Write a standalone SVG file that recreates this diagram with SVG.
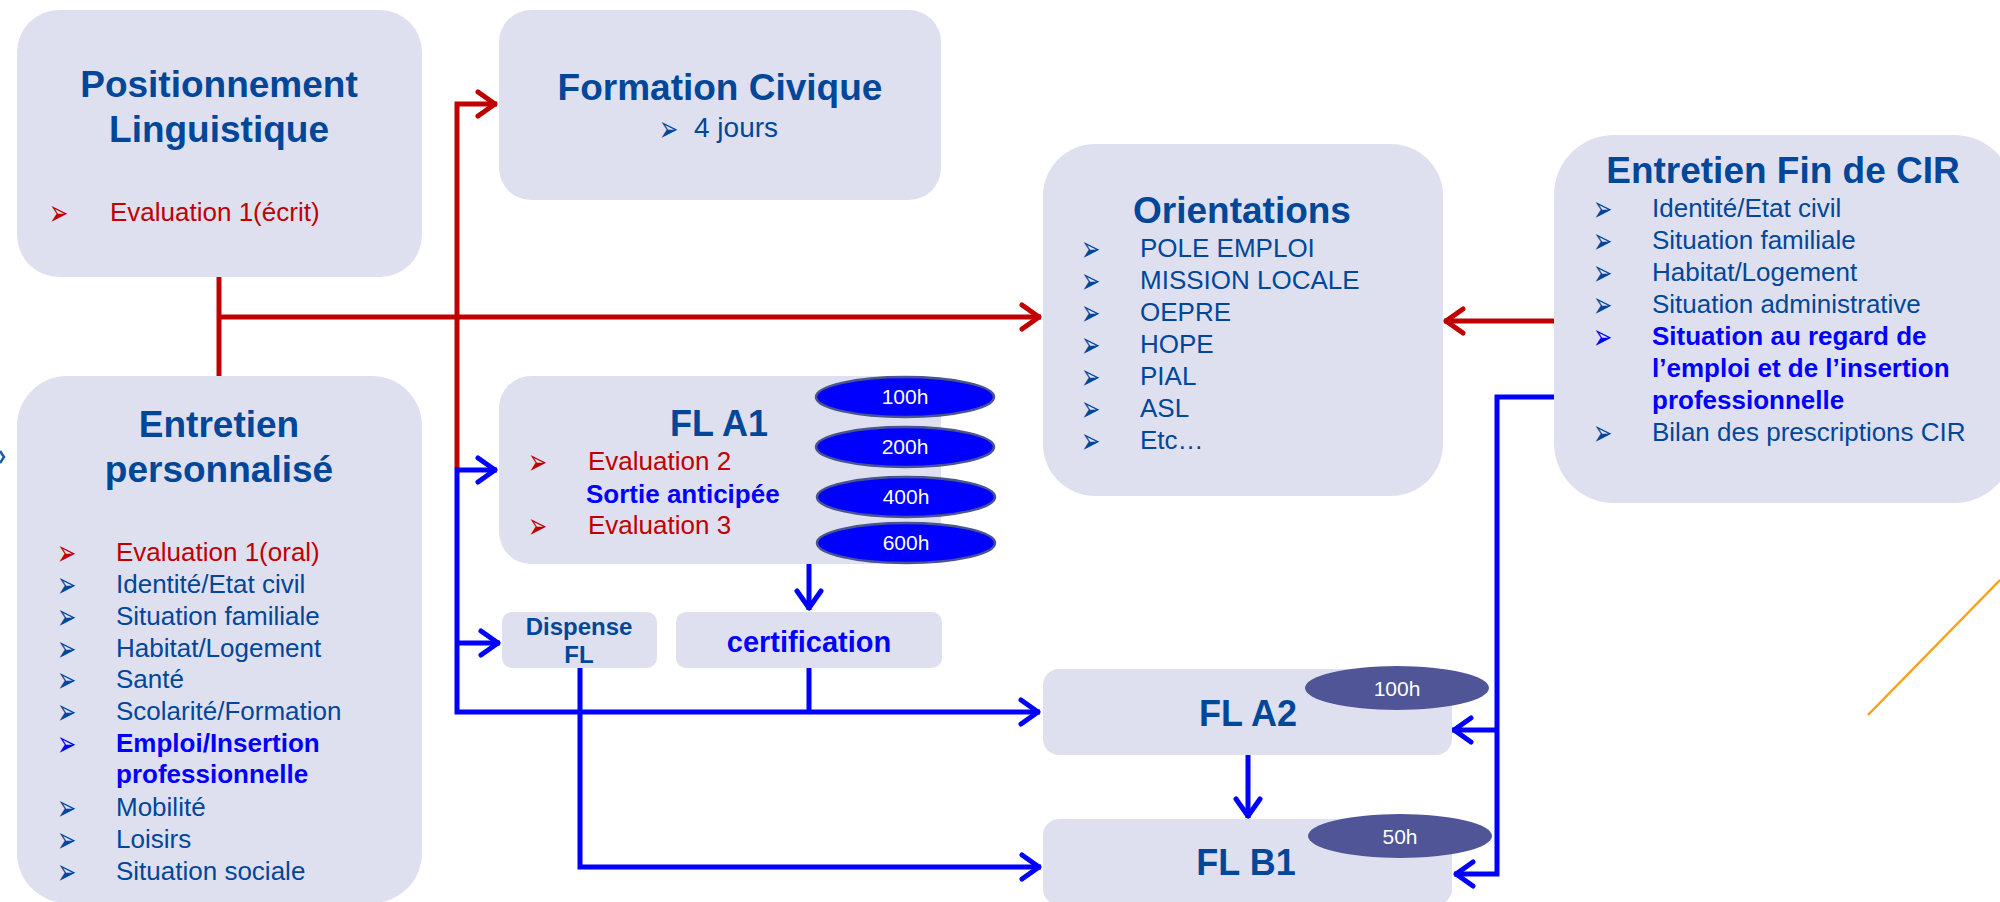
<svg xmlns="http://www.w3.org/2000/svg" xmlns:xlink="http://www.w3.org/1999/xlink" width="2000" height="902" viewBox="0 0 2000 902">
<style>
.box{fill:#dfe0ef}
text{font-family:"Liberation Sans",Arial,sans-serif}
.t{font-weight:bold;font-size:37px;fill:#00479a;text-anchor:middle}
.t2{font-weight:bold;font-size:36px;fill:#00479a;text-anchor:middle}
.i{font-size:26px;fill:#00479a}
.r{fill:#c00000}
.bb{fill:#0000ff;font-weight:bold}
.bu{font-family:"DejaVu Sans",sans-serif;font-size:23px}
.ur{fill:#c00000}
.ui{fill:#00479a}
.ub{fill:#0000ff}
.eh{fill:#0000ff;stroke:#4a5590;stroke-width:2.5}
.ed{fill:#4f5597}
.et{font-size:21px;fill:#ffffff;text-anchor:middle}
.lr{fill:none;stroke:#c00000;stroke-width:5}
.lb{fill:none;stroke:#0000ff;stroke-width:5}
</style>
<defs>
<text id="bl" class="bu" x="0" y="2.6" transform="scale(1,1.55)">➢</text>
<marker id="mr" viewBox="-26 -16 30 32" refX="0" refY="0" markerWidth="30" markerHeight="32" orient="auto" markerUnits="userSpaceOnUse">
<path d="M-19,-12 L-2,0 L-19,12" fill="none" stroke="#c00000" stroke-width="5" stroke-linecap="round" stroke-linejoin="round"/>
</marker>
<marker id="mb" viewBox="-26 -16 30 32" refX="0" refY="0" markerWidth="30" markerHeight="32" orient="auto" markerUnits="userSpaceOnUse">
<path d="M-19,-12 L-2,0 L-19,12" fill="none" stroke="#0000ff" stroke-width="5" stroke-linecap="round" stroke-linejoin="round"/>
</marker>
</defs>

<g id="connectors">
<path class="lr" d="M219,277 V376"/>
<path class="lr" d="M219,317 H1041" marker-end="url(#mr)"/>
<path class="lr" d="M457,467 V104 H497" marker-end="url(#mr)"/>
<path class="lr" d="M1554,321 H1444" marker-end="url(#mr)"/>
<path class="lb" d="M457,467 V712 H1040" marker-end="url(#mb)"/>
<path class="lb" d="M457,470 H497" marker-end="url(#mb)"/>
<path class="lb" d="M457,643 H500" marker-end="url(#mb)"/>
<path class="lb" d="M809,564 V610" marker-end="url(#mb)"/>
<path class="lb" d="M809,668 V712"/>
<path class="lb" d="M580,668 V867 H1041" marker-end="url(#mb)"/>
<path class="lb" d="M1248,755 V818" marker-end="url(#mb)"/>
<path class="lb" d="M1554,397 H1497 V874 H1454" marker-end="url(#mb)"/>
<path class="lb" d="M1497,730 H1452" marker-end="url(#mb)"/>
<path d="M0,451 L4,457 L0,463" fill="none" stroke="#1a5aa8" stroke-width="2.5"/>
<path d="M1868,715 L2000,580" fill="none" stroke="#f7a11a" stroke-width="2.5"/>
</g>

<g id="positionnement">
<rect class="box" x="17" y="10" width="405" height="267" rx="42"/>
<text class="t" x="219" y="97">Positionnement</text>
<text class="t" x="219" y="142">Linguistique</text>
<use xlink:href="#bl" x="49" y="221" class="ur"/>
<text class="i r" x="110" y="221">Evaluation 1(écrit)</text>
</g>

<g id="entretien-personnalise">
<rect class="box" x="17" y="376" width="405" height="527" rx="50"/>
<text class="t" x="219" y="437">Entretien</text>
<text class="t" x="219" y="482">personnalisé</text>
<use xlink:href="#bl" x="57" y="561" class="ur"/><text class="i r" x="116" y="561">Evaluation 1(oral)</text>
<use xlink:href="#bl" x="57" y="593" class="ui"/><text class="i" x="116" y="593">Identité/Etat civil</text>
<use xlink:href="#bl" x="57" y="625" class="ui"/><text class="i" x="116" y="625">Situation familiale</text>
<use xlink:href="#bl" x="57" y="657" class="ui"/><text class="i" x="116" y="657">Habitat/Logement</text>
<use xlink:href="#bl" x="57" y="688" class="ui"/><text class="i" x="116" y="688">Santé</text>
<use xlink:href="#bl" x="57" y="720" class="ui"/><text class="i" x="116" y="720">Scolarité/Formation</text>
<use xlink:href="#bl" x="57" y="752" class="ub"/><text class="i bb" x="116" y="752">Emploi/Insertion</text>
<text class="i bb" x="116" y="783">professionnelle</text>
<use xlink:href="#bl" x="57" y="816" class="ui"/><text class="i" x="116" y="816">Mobilité</text>
<use xlink:href="#bl" x="57" y="848" class="ui"/><text class="i" x="116" y="848">Loisirs</text>
<use xlink:href="#bl" x="57" y="880" class="ui"/><text class="i" x="116" y="880">Situation sociale</text>
</g>

<g id="formation-civique">
<rect class="box" x="499" y="10" width="442" height="190" rx="32"/>
<text class="t" x="720" y="100">Formation Civique</text>
<use xlink:href="#bl" x="659" y="137" class="ui"/>
<text class="i" x="694" y="137" style="font-size:28px">4 jours</text>
</g>

<g id="fl-a1">
<rect class="box" x="499" y="376" width="442" height="188" rx="32"/>
<text class="t2" x="719" y="436">FL A1</text>
<use xlink:href="#bl" x="528" y="470" class="ur"/><text class="i r" x="588" y="470">Evaluation 2</text>
<text class="i bb" x="586" y="503">Sortie anticipée</text>
<use xlink:href="#bl" x="528" y="534" class="ur"/><text class="i r" x="588" y="534">Evaluation 3</text>
<ellipse class="eh" cx="905" cy="397" rx="89" ry="20"/><text class="et" x="905" y="404">100h</text>
<ellipse class="eh" cx="905" cy="447" rx="89" ry="20"/><text class="et" x="905" y="454">200h</text>
<ellipse class="eh" cx="906" cy="497" rx="89" ry="20"/><text class="et" x="906" y="504">400h</text>
<ellipse class="eh" cx="906" cy="543" rx="89" ry="20"/><text class="et" x="906" y="550">600h</text>
</g>

<g id="dispense-fl">
<rect class="box" x="502" y="612" width="155" height="56" rx="10"/>
<text class="t" x="579" y="635" style="font-size:24px">Dispense</text>
<text class="t" x="579" y="663" style="font-size:24px">FL</text>
</g>

<g id="certification">
<rect class="box" x="676" y="612" width="266" height="56" rx="10"/>
<text class="t" x="809" y="652" style="font-size:29px;fill:#0000ff">certification</text>
</g>

<g id="orientations">
<rect class="box" x="1043" y="144" width="400" height="352" rx="52"/>
<text class="t" x="1242" y="223">Orientations</text>
<use xlink:href="#bl" x="1081" y="257" class="ui"/><text class="i" x="1140" y="257">POLE EMPLOI</text>
<use xlink:href="#bl" x="1081" y="289" class="ui"/><text class="i" x="1140" y="289">MISSION LOCALE</text>
<use xlink:href="#bl" x="1081" y="321" class="ui"/><text class="i" x="1140" y="321">OEPRE</text>
<use xlink:href="#bl" x="1081" y="353" class="ui"/><text class="i" x="1140" y="353">HOPE</text>
<use xlink:href="#bl" x="1081" y="385" class="ui"/><text class="i" x="1140" y="385">PIAL</text>
<use xlink:href="#bl" x="1081" y="417" class="ui"/><text class="i" x="1140" y="417">ASL</text>
<use xlink:href="#bl" x="1081" y="449" class="ui"/><text class="i" x="1140" y="449">Etc…</text>
</g>

<g id="entretien-fin-cir">
<rect class="box" x="1554" y="135" width="460" height="368" rx="60"/>
<text class="t" x="1783" y="183">Entretien Fin de CIR</text>
<use xlink:href="#bl" x="1593" y="217" class="ui"/><text class="i" x="1652" y="217">Identité/Etat civil</text>
<use xlink:href="#bl" x="1593" y="249" class="ui"/><text class="i" x="1652" y="249">Situation familiale</text>
<use xlink:href="#bl" x="1593" y="281" class="ui"/><text class="i" x="1652" y="281">Habitat/Logement</text>
<use xlink:href="#bl" x="1593" y="313" class="ui"/><text class="i" x="1652" y="313">Situation administrative</text>
<use xlink:href="#bl" x="1593" y="345" class="ub"/><text class="i bb" x="1652" y="345">Situation au regard de</text>
<text class="i bb" x="1652" y="377">l’emploi et de l’insertion</text>
<text class="i bb" x="1652" y="409">professionnelle</text>
<use xlink:href="#bl" x="1593" y="441" class="ui"/><text class="i" x="1652" y="441">Bilan des prescriptions CIR</text>
</g>

<g id="fl-a2">
<rect class="box" x="1043" y="669" width="409" height="86" rx="16"/>
<text class="t2" x="1248" y="726">FL A2</text>
<ellipse class="ed" cx="1397" cy="688" rx="92" ry="22"/>
<text class="et" x="1397" y="696">100h</text>
</g>

<g id="fl-b1">
<rect class="box" x="1043" y="819" width="409" height="86" rx="16"/>
<text class="t2" x="1246" y="875">FL B1</text>
<ellipse class="ed" cx="1400" cy="836" rx="92" ry="22"/>
<text class="et" x="1400" y="844">50h</text>
</g>
</svg>
